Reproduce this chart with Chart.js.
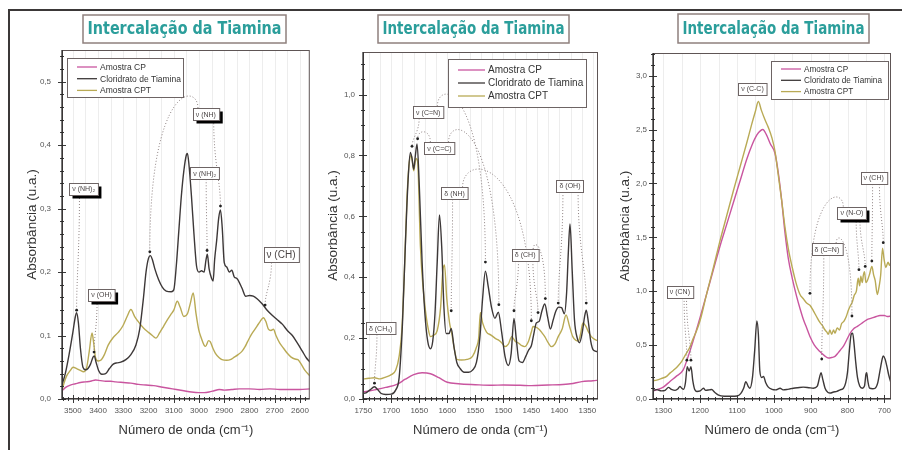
<!DOCTYPE html>
<html>
<head>
<meta charset="utf-8">
<title>Intercalação da Tiamina</title>
<script src="https://cdn.jsdelivr.net/npm/chart.js@4/dist/chart.umd.min.js"></script>
<style>
  html, body { margin: 0; padding: 0; background: #fff; }
  #page { position: relative; width: 902px; height: 450px; overflow: hidden; background: #fff; }
  #frame { position: absolute; left: 8px; top: 9px; width: 940px; height: 480px;
           border-left: 2px solid #3b3838; border-top: 2px solid #3b3838; }
  canvas { position: absolute; top: 0; }
</style>
</head>
<body>
<div id="page">
  <div id="frame"></div>
  <canvas id="chart1" width="316" height="450" style="left:0px"></canvas>
  <canvas id="chart2" width="288" height="450" style="left:316px"></canvas>
  <canvas id="chart3" width="298" height="450" style="left:604px"></canvas>
</div>
<script>
const SERIES_NAMES = ["Amostra CP", "Cloridrato de Tiamina", "Amostra CPT"];
const COLORS = ["#c9559f", "#3d3838", "#b9aa55"];
const TITLE = "Intercalação da Tiamina";
const X_TITLE = "Número de onda (cm⁻¹)";
const Y_TITLE = "Absorbância (u.a.)";

/* Panel 1: 3550 - 2550 cm-1, [wavenumber, absorbance] */
const p1CP = [
  [3545, 0.012], [3530, 0.018], [3510, 0.022], [3490, 0.024], [3470, 0.026], [3450, 0.027],
  [3430, 0.028], [3410, 0.030], [3390, 0.029], [3370, 0.028], [3350, 0.028], [3330, 0.027],
  [3300, 0.026], [3270, 0.025], [3240, 0.023], [3210, 0.022], [3180, 0.021], [3150, 0.019],
  [3120, 0.017], [3090, 0.015], [3060, 0.013], [3030, 0.011], [3000, 0.010], [2980, 0.010],
  [2960, 0.011], [2940, 0.013], [2920, 0.015], [2900, 0.014], [2870, 0.015], [2840, 0.016],
  [2800, 0.016], [2760, 0.015], [2720, 0.016], [2680, 0.015], [2640, 0.015], [2600, 0.015],
  [2560, 0.016]
];
const p1Cloridrato = [
  [3545, 0.020], [3530, 0.040], [3515, 0.070], [3500, 0.105], [3490, 0.130], [3485, 0.136],
  [3478, 0.120], [3470, 0.080], [3460, 0.050], [3450, 0.046], [3440, 0.048], [3430, 0.055],
  [3420, 0.066], [3415, 0.068], [3408, 0.058], [3398, 0.045], [3385, 0.039], [3370, 0.040],
  [3355, 0.048], [3340, 0.055], [3325, 0.057], [3310, 0.058], [3290, 0.062], [3270, 0.070],
  [3250, 0.085], [3235, 0.110], [3220, 0.160], [3210, 0.200], [3200, 0.222], [3193, 0.226],
  [3185, 0.220], [3175, 0.205], [3160, 0.188], [3145, 0.176], [3130, 0.170], [3110, 0.169],
  [3100, 0.172], [3090, 0.210], [3080, 0.265], [3070, 0.320], [3060, 0.360], [3050, 0.385],
  [3046, 0.387], [3040, 0.370], [3030, 0.320], [3020, 0.260], [3010, 0.210], [3000, 0.200],
  [2990, 0.202], [2980, 0.200], [2972, 0.220], [2967, 0.228], [2960, 0.205], [2950, 0.190],
  [2944, 0.186], [2938, 0.220], [2930, 0.250], [2922, 0.285], [2915, 0.298], [2908, 0.270],
  [2900, 0.215], [2890, 0.208], [2880, 0.200], [2870, 0.203], [2860, 0.192], [2850, 0.190],
  [2830, 0.175], [2815, 0.162], [2800, 0.163], [2785, 0.162], [2770, 0.158], [2750, 0.150],
  [2730, 0.140], [2710, 0.132], [2690, 0.125], [2670, 0.118], [2650, 0.108], [2630, 0.100],
  [2610, 0.088], [2590, 0.075], [2575, 0.065], [2560, 0.058]
];
const p1CPT = [
  [3545, 0.010], [3535, 0.025], [3525, 0.036], [3510, 0.045], [3499, 0.050], [3485, 0.048],
  [3470, 0.045], [3458, 0.043], [3445, 0.050], [3435, 0.075], [3424, 0.104], [3418, 0.090],
  [3410, 0.065], [3400, 0.060], [3387, 0.062], [3375, 0.070], [3360, 0.085], [3340, 0.097],
  [3320, 0.105], [3302, 0.115], [3285, 0.130], [3270, 0.141], [3255, 0.130], [3237, 0.120],
  [3220, 0.112], [3200, 0.105], [3185, 0.100], [3171, 0.096], [3155, 0.105], [3140, 0.115],
  [3125, 0.125], [3112, 0.133], [3100, 0.140], [3086, 0.154], [3075, 0.145], [3060, 0.130],
  [3045, 0.135], [3035, 0.150], [3023, 0.167], [3012, 0.135], [3001, 0.109], [2990, 0.095],
  [2980, 0.085], [2974, 0.083], [2962, 0.092], [2955, 0.090], [2945, 0.080], [2935, 0.072],
  [2920, 0.065], [2909, 0.062], [2890, 0.061], [2876, 0.062], [2860, 0.066], [2845, 0.070],
  [2830, 0.075], [2818, 0.082], [2808, 0.090], [2795, 0.100], [2785, 0.106], [2770, 0.115],
  [2758, 0.122], [2745, 0.128], [2735, 0.122], [2725, 0.110], [2715, 0.108], [2705, 0.110],
  [2695, 0.100], [2680, 0.088], [2665, 0.080], [2650, 0.072], [2635, 0.066], [2620, 0.063],
  [2608, 0.062], [2595, 0.055], [2580, 0.045], [2560, 0.036]
];
const p1XTicks = [3500, 3400, 3300, 3200, 3100, 3000, 2900, 2800, 2700, 2600];
const p1YTicks = [0, 0.1, 0.2, 0.3, 0.4, 0.5];
const p1Labels = [
  { text: "ν (NH)₂", at: [3457, 0.331], shadow: true, to: [[3485, 0.14]] },
  { text: "ν (OH)", at: [3386, 0.164], shadow: true, to: [[3416, 0.074]] },
  { text: "ν (NH)", at: [2973, 0.449], shadow: true, to: [[3195, 0.232], [2915, 0.304]] },
  { text: "ν (NH)₂", at: [2977, 0.356], to: [[2968, 0.234]] },
  { text: "ν (CH)", at: [2675, 0.227], big: true, to: [[2738, 0.148]] }
];

/* Panel 2: 1750 - 1330 cm-1 */
const p2CP = [
  [1752, 0.022], [1730, 0.030], [1710, 0.038], [1690, 0.048], [1675, 0.065], [1660, 0.080],
  [1645, 0.086], [1630, 0.083], [1615, 0.070], [1600, 0.055], [1580, 0.050], [1550, 0.047],
  [1520, 0.045], [1500, 0.046], [1470, 0.045], [1450, 0.044], [1420, 0.046], [1400, 0.047],
  [1380, 0.050], [1360, 0.057], [1340, 0.060], [1330, 0.062]
];
const p2Cloridrato = [
  [1752, 0.018], [1745, 0.020], [1738, 0.030], [1730, 0.040], [1724, 0.030], [1718, 0.018],
  [1710, 0.015], [1700, 0.016], [1692, 0.030], [1686, 0.070], [1680, 0.250], [1675, 0.500],
  [1670, 0.720], [1666, 0.810], [1663, 0.790], [1660, 0.755], [1657, 0.800], [1654, 0.838],
  [1650, 0.700], [1645, 0.450], [1640, 0.280], [1635, 0.190], [1630, 0.165], [1626, 0.190],
  [1622, 0.280], [1618, 0.450], [1614, 0.605], [1610, 0.500], [1606, 0.300], [1602, 0.215],
  [1597, 0.215], [1593, 0.232], [1588, 0.170], [1583, 0.120], [1577, 0.100], [1570, 0.088],
  [1562, 0.088], [1555, 0.095], [1548, 0.120], [1542, 0.200], [1537, 0.330], [1532, 0.420],
  [1527, 0.370], [1521, 0.300], [1515, 0.265], [1509, 0.285], [1503, 0.220], [1497, 0.140],
  [1491, 0.110], [1486, 0.150], [1481, 0.265], [1477, 0.200], [1472, 0.125], [1466, 0.120],
  [1460, 0.140], [1455, 0.160], [1450, 0.175], [1446, 0.210], [1441, 0.250], [1436, 0.255],
  [1431, 0.290], [1426, 0.312], [1421, 0.270], [1416, 0.230], [1411, 0.260], [1406, 0.290],
  [1401, 0.302], [1396, 0.300], [1391, 0.280], [1387, 0.350], [1384, 0.480], [1381, 0.575],
  [1377, 0.420], [1373, 0.260], [1368, 0.200], [1364, 0.185], [1359, 0.220], [1355, 0.270],
  [1352, 0.292], [1348, 0.250], [1344, 0.190], [1339, 0.160], [1330, 0.155]
];
const p2CPT = [
  [1752, 0.065], [1740, 0.068], [1730, 0.070], [1720, 0.066], [1710, 0.072], [1700, 0.080],
  [1692, 0.095], [1686, 0.140], [1681, 0.230], [1676, 0.450], [1672, 0.660], [1667, 0.790],
  [1664, 0.800], [1660, 0.750], [1656, 0.790], [1653, 0.780], [1648, 0.500], [1643, 0.360],
  [1639, 0.290], [1634, 0.230], [1630, 0.205], [1624, 0.210], [1618, 0.225], [1612, 0.300],
  [1608, 0.420], [1605, 0.440], [1601, 0.330], [1596, 0.250], [1592, 0.215], [1587, 0.160],
  [1583, 0.130], [1575, 0.128], [1565, 0.130], [1555, 0.140], [1548, 0.170], [1544, 0.200],
  [1541, 0.284], [1537, 0.250], [1530, 0.220], [1522, 0.210], [1515, 0.200], [1509, 0.194],
  [1503, 0.185], [1497, 0.172], [1491, 0.180], [1485, 0.205], [1479, 0.190], [1473, 0.184],
  [1467, 0.175], [1462, 0.172], [1455, 0.190], [1450, 0.220], [1447, 0.238], [1441, 0.235],
  [1435, 0.227], [1430, 0.215], [1426, 0.205], [1420, 0.185], [1414, 0.172], [1408, 0.180],
  [1402, 0.205], [1395, 0.230], [1388, 0.276], [1382, 0.240], [1376, 0.205], [1370, 0.192],
  [1366, 0.190], [1362, 0.215], [1358, 0.250], [1353, 0.240], [1348, 0.220], [1343, 0.205],
  [1336, 0.195], [1330, 0.190]
];
const p2XTicks = [1750, 1700, 1650, 1600, 1550, 1500, 1450, 1400, 1350];
const p2YTicks = [0, 0.2, 0.4, 0.6, 0.8, 1.0];
const p2Labels = [
  { text: "ν (C=N)", at: [1634, 0.942], to: [[1663, 0.83], [1532, 0.45]] },
  { text: "ν (C=C)", at: [1614, 0.824], to: [[1653, 0.855], [1508, 0.31]] },
  { text: "δ (NH)", at: [1587, 0.676], to: [[1593, 0.29], [1450, 0.257]] },
  { text: "δ (CH)", at: [1461, 0.473], to: [[1481, 0.29], [1438, 0.284], [1425, 0.33]] },
  { text: "δ (OH)", at: [1381, 0.70], to: [[1402, 0.315], [1352, 0.315]] },
  { text: "δ (CH₃)", at: [1719, 0.232], to: [[1730, 0.052]] }
];

/* Panel 3: 1330 - 680 cm-1 */
const p3CP = [
  [1328, 0.075], [1318, 0.086], [1300, 0.110], [1282, 0.163], [1265, 0.210], [1246, 0.270],
  [1232, 0.400], [1219, 0.540], [1200, 0.760], [1182, 0.980], [1164, 1.200], [1146, 1.420],
  [1128, 1.620], [1110, 1.820], [1092, 2.020], [1074, 2.220], [1060, 2.350], [1046, 2.450],
  [1036, 2.490], [1030, 2.500], [1020, 2.450], [1010, 2.370], [997, 2.280], [988, 2.100],
  [979, 1.850], [970, 1.550], [961, 1.310], [950, 1.120], [938, 0.950], [929, 0.840],
  [920, 0.740], [911, 0.660], [902, 0.580], [890, 0.500], [875, 0.440], [862, 0.400],
  [852, 0.380], [843, 0.385], [834, 0.395], [825, 0.430], [818, 0.460], [811, 0.490],
  [802, 0.550], [793, 0.610], [784, 0.650], [775, 0.670], [762, 0.700], [748, 0.735],
  [735, 0.750], [722, 0.765], [712, 0.775], [700, 0.775], [692, 0.765], [682, 0.770]
];
const p3Cloridrato = [
  [1328, 0.080], [1318, 0.087], [1305, 0.075], [1295, 0.080], [1286, 0.108], [1278, 0.090],
  [1268, 0.080], [1260, 0.095], [1255, 0.117], [1250, 0.100], [1245, 0.090], [1240, 0.150],
  [1235, 0.300], [1230, 0.260], [1225, 0.300], [1220, 0.170], [1215, 0.090], [1209, 0.070],
  [1200, 0.075], [1191, 0.100], [1185, 0.080], [1175, 0.085], [1169, 0.088], [1160, 0.060],
  [1150, 0.035], [1135, 0.025], [1115, 0.025], [1100, 0.028], [1090, 0.050], [1082, 0.100],
  [1076, 0.160], [1070, 0.120], [1065, 0.100], [1058, 0.200], [1052, 0.450], [1046, 0.725],
  [1042, 0.600], [1038, 0.260], [1033, 0.200], [1028, 0.210], [1022, 0.150], [1015, 0.110],
  [1005, 0.090], [995, 0.085], [983, 0.100], [975, 0.085], [965, 0.088], [955, 0.095],
  [947, 0.100], [935, 0.105], [920, 0.110], [905, 0.105], [893, 0.100], [882, 0.120],
  [876, 0.200], [872, 0.245], [867, 0.180], [861, 0.100], [853, 0.060], [847, 0.055],
  [838, 0.065], [829, 0.070], [820, 0.085], [811, 0.100], [805, 0.150], [800, 0.250],
  [795, 0.450], [790, 0.600], [786, 0.610], [782, 0.500], [778, 0.350], [773, 0.200],
  [767, 0.120], [760, 0.100], [754, 0.120], [750, 0.230], [748, 0.245], [745, 0.170],
  [740, 0.100], [732, 0.095], [725, 0.100], [718, 0.150], [712, 0.260], [706, 0.370],
  [703, 0.400], [698, 0.370], [693, 0.300], [688, 0.220], [682, 0.150]
];
const p3CPT = [
  [1328, 0.170], [1318, 0.175], [1305, 0.190], [1291, 0.210], [1282, 0.240], [1273, 0.265],
  [1262, 0.300], [1250, 0.350], [1240, 0.410], [1228, 0.480], [1219, 0.560], [1210, 0.630],
  [1200, 0.730], [1182, 0.980], [1164, 1.220], [1146, 1.470], [1128, 1.700], [1110, 1.930],
  [1092, 2.150], [1074, 2.370], [1060, 2.550], [1050, 2.670], [1042, 2.760], [1034, 2.680],
  [1024, 2.590], [1015, 2.520], [1005, 2.420], [997, 2.300], [988, 2.080], [979, 1.850],
  [970, 1.600], [961, 1.400], [950, 1.220], [940, 1.080], [929, 0.970], [920, 0.930],
  [911, 0.890], [902, 0.870], [893, 0.820], [885, 0.770], [875, 0.710], [868, 0.680],
  [861, 0.640], [856, 0.620], [852, 0.600], [848, 0.640], [843, 0.600], [838, 0.640],
  [834, 0.610], [828, 0.660], [822, 0.640], [816, 0.700], [810, 0.720], [804, 0.760],
  [798, 0.820], [793, 0.860], [787, 0.900], [782, 0.960], [776, 1.000], [771, 1.120],
  [767, 1.050], [764, 1.140], [760, 1.080], [757, 1.150], [754, 1.180], [750, 1.080],
  [746, 1.100], [740, 1.160], [734, 1.230], [729, 1.150], [725, 1.100], [719, 0.970],
  [714, 1.050], [710, 1.150], [705, 1.400], [701, 1.300], [696, 1.220], [690, 1.270],
  [686, 1.240], [682, 1.270]
];
const p3XTicks = [1300, 1200, 1100, 1000, 900, 800, 700];
const p3YTicks = [0, 0.5, 1.0, 1.5, 2.0, 2.5, 3.0];
const p3Labels = [
  { text: "ν (C-C)", at: [1058, 2.88], to: [] },
  { text: "ν (CH)", at: [729, 2.05], to: [[703, 1.45], [734, 1.28]] },
  { text: "ν (N-O)", at: [788, 1.73], shadow: true, to: [[902, 0.98], [769, 1.2], [752, 1.23]] },
  { text: "δ (C=N)", at: [856, 1.39], to: [[870, 0.37], [788, 0.77]] },
  { text: "ν (CN)", at: [1255, 0.995], to: [[1236, 0.36], [1225, 0.36]] }
];

const FONT = "'Liberation Sans', Arial, sans-serif";

function multiples(min, max, step) {
  const out = [];
  for (let k = Math.ceil(min / step - 1e-9); k * step <= max + 1e-9; k++) out.push(k * step);
  return out;
}

function drawBox(ctx, cx, cy, text, size, shadow) {
  ctx.font = `${size}px ${FONT}`;
  const w = ctx.measureText(text).width + 6;
  const h = size + 5;
  const x0 = Math.round(cx - w / 2) + 0.5, y0 = Math.round(cy - h / 2) + 0.5;
  if (shadow) {
    ctx.fillStyle = "#000";
    ctx.fillRect(x0 + 3, y0 + 3, w, h);
  }
  ctx.fillStyle = "#fff";
  ctx.fillRect(x0, y0, w, h);
  ctx.strokeStyle = "#6d6464";
  ctx.lineWidth = 1;
  ctx.strokeRect(x0, y0, w, h);
  ctx.fillStyle = "#4a4444";
  ctx.textAlign = "center";
  ctx.textBaseline = "middle";
  ctx.fillText(text, cx, cy + 0.5);
  return { w, h };
}

const decor = {
  id: "decor",
  beforeDatasetsDraw(chart, args, o) {
    const { ctx, chartArea: a, scales: { x } } = chart;
    ctx.save();
    ctx.strokeStyle = "rgba(110,110,110,0.12)";
    ctx.lineWidth = 1;
    multiples(x.min, x.max, o.gridStep).forEach(v => {
      const px = Math.round(x.getPixelForValue(v)) + 0.5;
      ctx.beginPath(); ctx.moveTo(px, a.top); ctx.lineTo(px, a.bottom); ctx.stroke();
    });
    ctx.restore();
  },
  afterDatasetsDraw(chart, args, o) {
    const { ctx, chartArea: a, scales: { x, y } } = chart;
    ctx.save();

    // plot frame
    ctx.strokeStyle = "#5e5555";
    ctx.lineWidth = 1;
    ctx.strokeRect(a.left + 0.5, a.top + 0.5, a.right - a.left - 1, a.bottom - a.top - 1);

    // ticks crossing the axes
    ctx.strokeStyle = "#3a3a3a";
    const xMajor = o.xTicks;
    multiples(x.min, x.max, o.xMinor).forEach(v => {
      const major = xMajor.some(t => Math.abs(t - v) < 1e-6);
      const len = major ? 4 : 2;
      const px = Math.round(x.getPixelForValue(v)) + 0.5;
      ctx.beginPath(); ctx.moveTo(px, a.bottom - len); ctx.lineTo(px, a.bottom + len); ctx.stroke();
    });
    multiples(y.min, y.max, o.yMinor).forEach(v => {
      const major = o.yTicks.some(t => Math.abs(t - v) < 1e-6);
      const len = major ? 4 : 2;
      const py = Math.round(y.getPixelForValue(v)) + 0.5;
      ctx.beginPath(); ctx.moveTo(a.left - len, py); ctx.lineTo(a.left + len, py); ctx.stroke();
    });
    ctx.strokeStyle = "#222";
    ctx.lineWidth = 1.2;
    ctx.beginPath(); ctx.moveTo(a.left, a.bottom); ctx.lineTo(a.right, a.bottom); ctx.stroke();
    ctx.beginPath(); ctx.moveTo(a.left, a.top); ctx.lineTo(a.left, a.bottom); ctx.stroke();

    // dotted leaders from the band labels to the peaks
    o.labels.forEach(lb => {
      const size = lb.big ? 10 : o.labelFont;
      ctx.font = `${size}px ${FONT}`;
      const w = ctx.measureText(lb.text).width + 6, h = size + 5;
      const bx = x.getPixelForValue(lb.at[0]), by = y.getPixelForValue(lb.at[1]);
      lb.to.forEach(([tx, ty]) => {
        const px = x.getPixelForValue(tx), py = y.getPixelForValue(ty);
        const dx = px - bx;
        const lift = Math.min(45, Math.abs(dx) * 0.45);
        ctx.strokeStyle = "#8e8282";
        ctx.lineWidth = 1;
        ctx.setLineDash([1, 2]);
        ctx.beginPath();
        if (lift < 8) {
          const sx = bx + Math.max(-w / 2, Math.min(w / 2, dx)) * 0.6;
          const sy = py > by ? by + h / 2 : by - h / 2;
          ctx.moveTo(sx, sy);
          ctx.bezierCurveTo(sx, sy + (py - sy) * 0.5, px, py - (py - sy) * 0.3, px, py);
        } else {
          const sx = bx + Math.sign(dx) * w * 0.3, sy = by - h / 2;
          const top = Math.min(sy, py) - lift;
          ctx.moveTo(sx, sy);
          ctx.bezierCurveTo(sx, top, px, top, px, py);
        }
        ctx.stroke();
        ctx.setLineDash([]);
        ctx.fillStyle = "#222";
        ctx.beginPath(); ctx.arc(px, py, 1.4, 0, Math.PI * 2); ctx.fill();
      });
    });
    o.labels.forEach(lb => {
      drawBox(ctx, x.getPixelForValue(lb.at[0]), y.getPixelForValue(lb.at[1]), lb.text,
        lb.big ? 10 : o.labelFont, lb.shadow);
    });

    // legend box
    const L = o.legend;
    ctx.fillStyle = "#fff";
    ctx.fillRect(L.x, L.y, L.w, L.h);
    ctx.strokeStyle = "#6d6464";
    ctx.lineWidth = 1;
    ctx.strokeRect(L.x + 0.5, L.y + 0.5, L.w, L.h);
    ctx.font = `${L.font}px ${FONT}`;
    ctx.textAlign = "left";
    ctx.textBaseline = "middle";
    chart.data.datasets.forEach((ds, i) => {
      const ry = L.y + L.first + i * L.row;
      ctx.strokeStyle = ds.borderColor;
      ctx.lineWidth = 1.3;
      ctx.beginPath(); ctx.moveTo(L.x + 10, ry); ctx.lineTo(L.x + 10 + L.line, ry); ctx.stroke();
      ctx.fillStyle = "#333";
      ctx.fillText(ds.label, L.x + 13 + L.line, ry + 0.5);
    });

    // title box
    const T = o.title;
    ctx.strokeStyle = "#8f807d";
    ctx.lineWidth = 1.5;
    ctx.fillStyle = "#fff";
    ctx.fillRect(T.x, T.y, T.w, T.h);
    ctx.strokeRect(T.x, T.y, T.w, T.h);
    ctx.font = "bold 17px 'DejaVu Sans', sans-serif";
    const tw = ctx.measureText(TITLE).width;
    ctx.translate(T.x + T.w / 2, T.y + T.h / 2 + 1);
    ctx.scale((T.w - 9) / tw, 1);
    ctx.fillStyle = "#2b9e9b";
    ctx.textAlign = "center";
    ctx.textBaseline = "middle";
    ctx.fillText(TITLE, 0, 0);
    ctx.restore();
  }
};

function makeChart(id, p) {
  const fmtY = v => v.toFixed(1).replace(".", ",");
  return new Chart(document.getElementById(id), {
    type: "line",
    data: {
      datasets: p.series.map((s, i) => ({
        label: SERIES_NAMES[i],
        data: s.map(([x, y]) => ({ x, y })),
        borderColor: COLORS[i],
        borderWidth: 1.4,
        pointRadius: 0,
        cubicInterpolationMode: "monotone",
        order: [3, 1, 2][i]
      }))
    },
    options: {
      responsive: false,
      animation: false,
      events: [],
      layout: { padding: { top: p.area.top, right: p.area.right, left: 0, bottom: 0 } },
      plugins: {
        legend: { display: false },
        tooltip: { enabled: false },
        decor: p.decor
      },
      scales: {
        x: {
          type: "linear",
          reverse: true,
          min: p.xMin,
          max: p.xMax,
          afterFit: s => { s.height = 450 - p.area.bottom; },
          afterBuildTicks: s => { s.ticks = p.decor.xTicks.map(v => ({ value: v })); },
          grid: { display: false, drawTicks: false },
          border: { display: false },
          ticks: {
            autoSkip: false, maxRotation: 0, padding: 7, color: "#555",
            font: { family: FONT, size: 8 },
            callback: v => String(v)
          },
          title: {
            display: true, text: X_TITLE, color: "#333",
            font: { family: FONT, size: 13 }, padding: { top: 0, bottom: 12 }
          }
        },
        y: {
          min: 0,
          max: p.yMax,
          afterFit: s => { s.width = p.area.left; },
          afterBuildTicks: s => { s.ticks = p.decor.yTicks.map(v => ({ value: v })); },
          grid: { display: false, drawTicks: false },
          border: { display: false },
          ticks: {
            autoSkip: false, padding: p.yPad, color: "#555",
            font: { family: FONT, size: 8 },
            callback: fmtY
          },
          title: {
            display: true, text: Y_TITLE, color: "#333",
            font: { family: FONT, size: 13.5 }, padding: { top: p.yTitlePad, bottom: 0 }
          }
        }
      }
    },
    plugins: [decor]
  });
}

makeChart("chart1", {
  series: [p1CP, p1Cloridrato, p1CPT],
  xMin: 2561, xMax: 3543, yMax: 0.55,
  area: { left: 62, top: 50, right: 4, bottom: 399 },
  yPad: 11, yTitlePad: 24,
  decor: {
    xTicks: p1XTicks, yTicks: p1YTicks, xMinor: 20, yMinor: 0.02, gridStep: 50,
    labels: p1Labels, labelFont: 7,
    title: { x: 83, y: 15, w: 203, h: 28 },
    legend: { x: 67, y: 58, w: 116, h: 39, font: 8.5, line: 20, row: 11.7, first: 9 }
  }
});

makeChart("chart2", {
  series: [p2CP, p2Cloridrato, p2CPT],
  xMin: 1331, xMax: 1750.5, yMax: 1.14,
  area: { left: 47, top: 52, right: 6, bottom: 399 },
  yPad: 8, yTitlePad: 9,
  decor: {
    xTicks: p2XTicks, yTicks: p2YTicks, xMinor: 10, yMinor: 0.05, gridStep: 20,
    labels: p2Labels, labelFont: 7,
    title: { x: 62, y: 15, w: 191, h: 28 },
    legend: { x: 132, y: 59, w: 138, h: 48, font: 10, line: 27, row: 13, first: 11 }
  }
});

makeChart("chart3", {
  series: [p3CP, p3Cloridrato, p3CPT],
  xMin: 682, xMax: 1328, yMax: 3.21,
  area: { left: 49, top: 53, right: 11, bottom: 399 },
  yPad: 6, yTitlePad: 13,
  decor: {
    xTicks: p3XTicks, yTicks: p3YTicks, xMinor: 20, yMinor: 0.1, gridStep: 50,
    labels: p3Labels, labelFont: 7,
    title: { x: 74, y: 14, w: 191, h: 29 },
    legend: { x: 167, y: 61, w: 117, h: 38, font: 8.2, line: 20, row: 11.3, first: 8 }
  }
});
</script>
</body>
</html>
